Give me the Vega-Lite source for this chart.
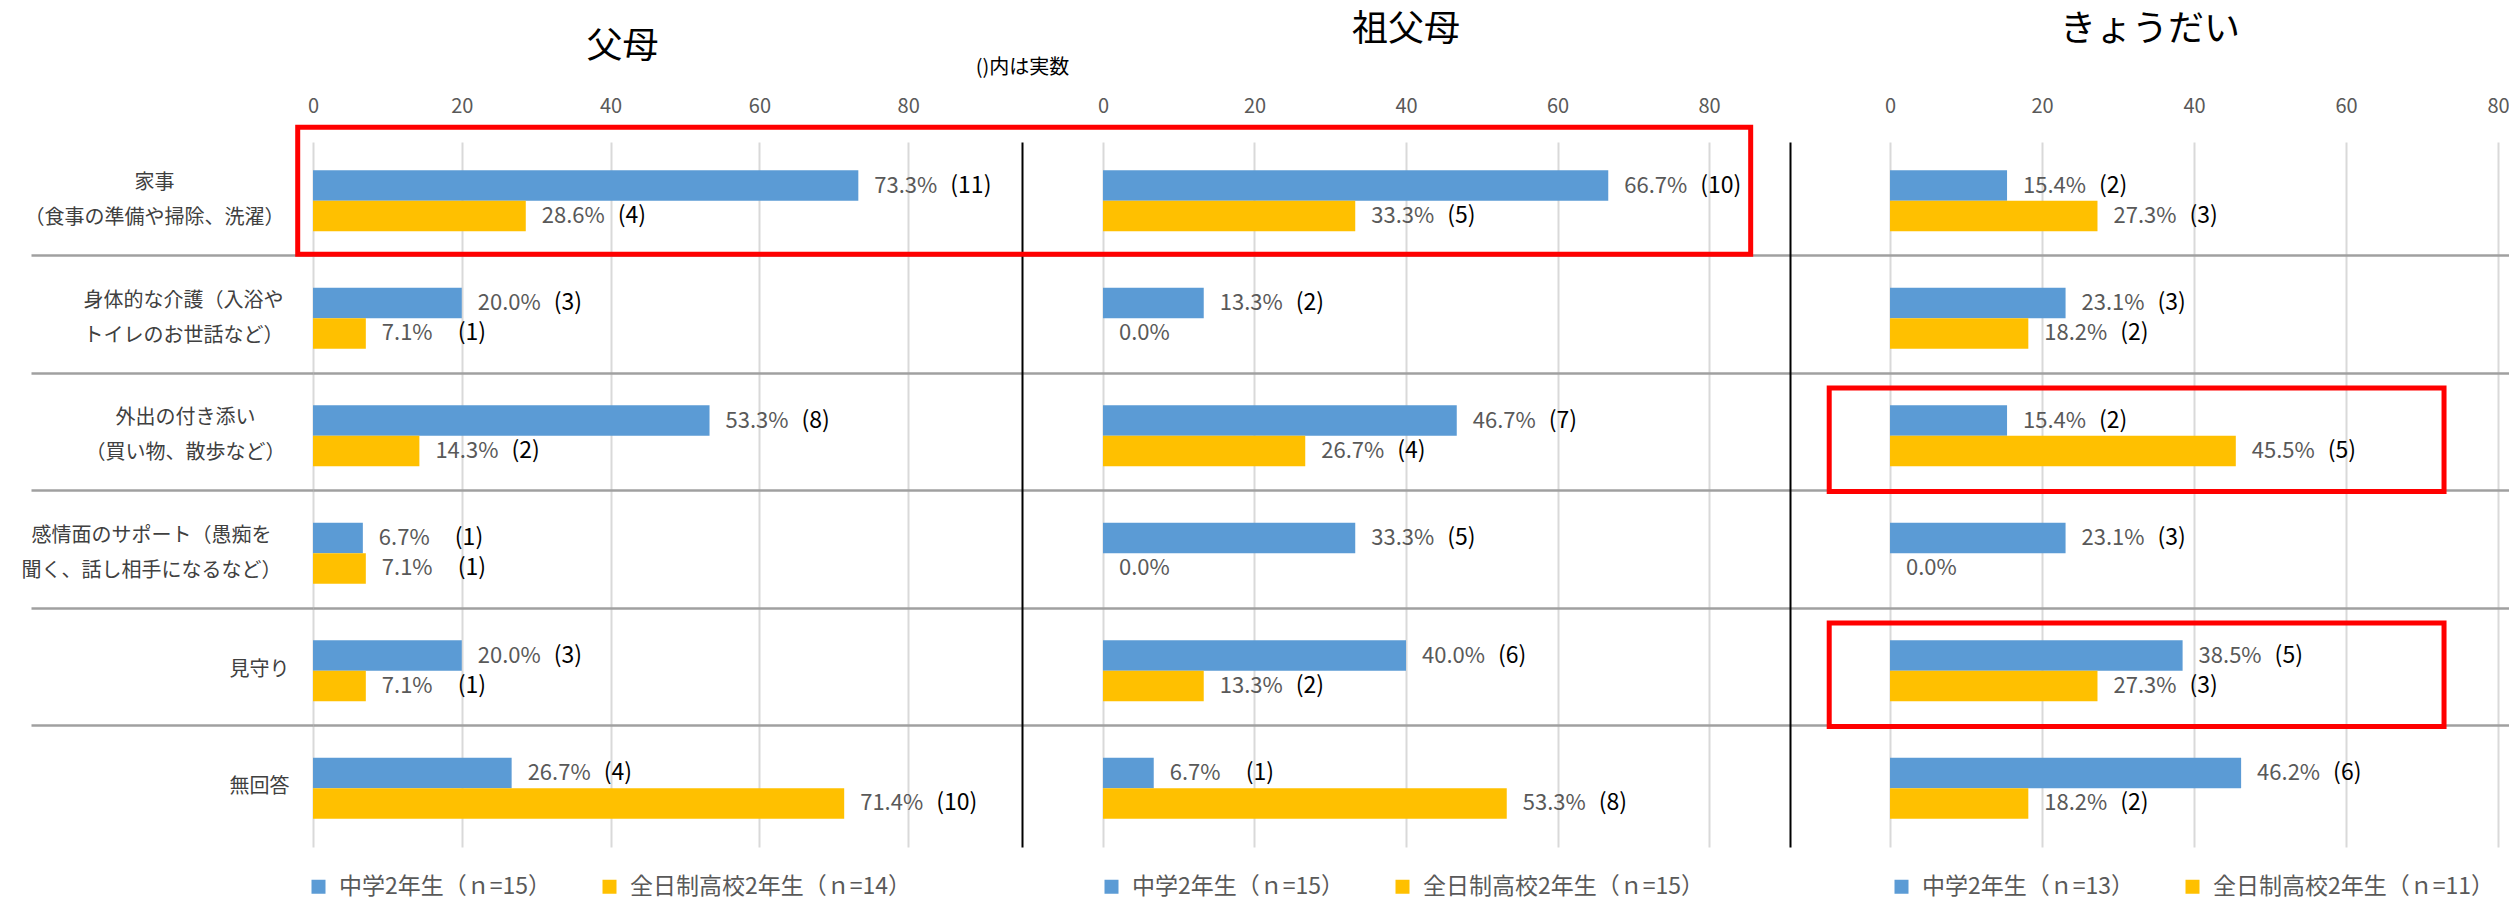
{
  "$schema": "https://vega.github.io/schema/vega-lite/v6.json",
  "background": "white",
  "padding": {"left": 21, "top": 12, "right": 0, "bottom": 3},
  "datasets": {
    "oya": [
      {"row": "家事\n（食事の準備や掃除、洗濯）", "series": "中学2年生（ｎ=15）", "pct": 73.3, "n": 11},
      {"row": "家事\n（食事の準備や掃除、洗濯）", "series": "全日制高校2年生（ｎ=14）", "pct": 28.6, "n": 4},
      {"row": "身体的な介護（入浴や\nトイレのお世話など）", "series": "中学2年生（ｎ=15）", "pct": 20.0, "n": 3},
      {"row": "身体的な介護（入浴や\nトイレのお世話など）", "series": "全日制高校2年生（ｎ=14）", "pct": 7.1, "n": 1},
      {"row": "外出の付き添い\n（買い物、散歩など）", "series": "中学2年生（ｎ=15）", "pct": 53.3, "n": 8},
      {"row": "外出の付き添い\n（買い物、散歩など）", "series": "全日制高校2年生（ｎ=14）", "pct": 14.3, "n": 2},
      {"row": "感情面のサポート（愚痴を\n聞く、話し相手になるなど）", "series": "中学2年生（ｎ=15）", "pct": 6.7, "n": 1},
      {"row": "感情面のサポート（愚痴を\n聞く、話し相手になるなど）", "series": "全日制高校2年生（ｎ=14）", "pct": 7.1, "n": 1},
      {"row": "見守り", "series": "中学2年生（ｎ=15）", "pct": 20.0, "n": 3},
      {"row": "見守り", "series": "全日制高校2年生（ｎ=14）", "pct": 7.1, "n": 1},
      {"row": "無回答", "series": "中学2年生（ｎ=15）", "pct": 26.7, "n": 4},
      {"row": "無回答", "series": "全日制高校2年生（ｎ=14）", "pct": 71.4, "n": 10}
    ],
    "sofubo": [
      {"row": "家事\n（食事の準備や掃除、洗濯）", "series": "中学2年生（ｎ=15）", "pct": 66.7, "n": 10},
      {"row": "家事\n（食事の準備や掃除、洗濯）", "series": "全日制高校2年生（ｎ=15）", "pct": 33.3, "n": 5},
      {"row": "身体的な介護（入浴や\nトイレのお世話など）", "series": "中学2年生（ｎ=15）", "pct": 13.3, "n": 2},
      {"row": "身体的な介護（入浴や\nトイレのお世話など）", "series": "全日制高校2年生（ｎ=15）", "pct": 0.0, "n": 0},
      {"row": "外出の付き添い\n（買い物、散歩など）", "series": "中学2年生（ｎ=15）", "pct": 46.7, "n": 7},
      {"row": "外出の付き添い\n（買い物、散歩など）", "series": "全日制高校2年生（ｎ=15）", "pct": 26.7, "n": 4},
      {"row": "感情面のサポート（愚痴を\n聞く、話し相手になるなど）", "series": "中学2年生（ｎ=15）", "pct": 33.3, "n": 5},
      {"row": "感情面のサポート（愚痴を\n聞く、話し相手になるなど）", "series": "全日制高校2年生（ｎ=15）", "pct": 0.0, "n": 0},
      {"row": "見守り", "series": "中学2年生（ｎ=15）", "pct": 40.0, "n": 6},
      {"row": "見守り", "series": "全日制高校2年生（ｎ=15）", "pct": 13.3, "n": 2},
      {"row": "無回答", "series": "中学2年生（ｎ=15）", "pct": 6.7, "n": 1},
      {"row": "無回答", "series": "全日制高校2年生（ｎ=15）", "pct": 53.3, "n": 8}
    ],
    "kyodai": [
      {"row": "家事\n（食事の準備や掃除、洗濯）", "series": "中学2年生（ｎ=13）", "pct": 15.4, "n": 2},
      {"row": "家事\n（食事の準備や掃除、洗濯）", "series": "全日制高校2年生（ｎ=11）", "pct": 27.3, "n": 3},
      {"row": "身体的な介護（入浴や\nトイレのお世話など）", "series": "中学2年生（ｎ=13）", "pct": 23.1, "n": 3},
      {"row": "身体的な介護（入浴や\nトイレのお世話など）", "series": "全日制高校2年生（ｎ=11）", "pct": 18.2, "n": 2},
      {"row": "外出の付き添い\n（買い物、散歩など）", "series": "中学2年生（ｎ=13）", "pct": 15.4, "n": 2},
      {"row": "外出の付き添い\n（買い物、散歩など）", "series": "全日制高校2年生（ｎ=11）", "pct": 45.5, "n": 5},
      {"row": "感情面のサポート（愚痴を\n聞く、話し相手になるなど）", "series": "中学2年生（ｎ=13）", "pct": 23.1, "n": 3},
      {"row": "感情面のサポート（愚痴を\n聞く、話し相手になるなど）", "series": "全日制高校2年生（ｎ=11）", "pct": 0.0, "n": 0},
      {"row": "見守り", "series": "中学2年生（ｎ=13）", "pct": 38.5, "n": 5},
      {"row": "見守り", "series": "全日制高校2年生（ｎ=11）", "pct": 27.3, "n": 3},
      {"row": "無回答", "series": "中学2年生（ｎ=13）", "pct": 46.2, "n": 6},
      {"row": "無回答", "series": "全日制高校2年生（ｎ=11）", "pct": 18.2, "n": 2}
    ]
  },
  "spacing": 0,
  "bounds": "flush",
  "hconcat": [
    {
      "width": 709,
      "height": 705,
      "title": {"text": "父母", "fontSize": 36, "fontWeight": "normal", "color": "#000000", "frame": "group", "anchor": "middle", "dx": -45, "offset": -8},
      "data": {"name": "oya"},
      "layer": [
        {
          "mark": {"type": "bar"},
          "encoding": {
            "y": {
              "field": "row", "type": "nominal", "sort": null,
              "scale": {"paddingInner": 0.481, "paddingOuter": 0.2405},
              "axis": {
                "title": null, "domain": false,
                "ticks": true, "tickSize": 282, "tickColor": "#A0A0A0", "tickWidth": 2.5,
                "grid": true, "gridColor": "#A0A0A0", "gridWidth": 2.5,
                "bandPosition": 1.4, "tickExtra": false,
                "tickOpacity": {"condition": {"test": "datum.value == '無回答'", "value": 0}, "value": 1},
                "gridOpacity": {"condition": {"test": "datum.value == '無回答'", "value": 0}, "value": 1},
                "labelOffset": {"condition": {"test": "indexof(datum.value, '\\n') >= 0", "value": -17.5}, "value": -1},
                "labelAlign": "center",
                "labelBaseline": "middle",
                "labelPadding": {"condition": [
                  {"test": "indexof(datum.value, '家事') == 0", "value": -123},
                  {"test": "indexof(datum.value, '身体') == 0", "value": -152},
                  {"test": "indexof(datum.value, '外出') == 0", "value": -154},
                  {"test": "indexof(datum.value, '感情') == 0", "value": -120}
                ], "value": -228},
                "labelExpr": "split(datum.label, '\\n')",
                "labelFontSize": 20, "labelColor": "#404040", "labelLineHeight": 35,
                "labelLimit": 500, "labelOverlap": false
              }
            },
            "yOffset": {"field": "series", "type": "nominal", "sort": null, "scale": {"paddingInner": 0, "paddingOuter": 0}},
            "x": {
              "field": "pct", "type": "quantitative",
              "scale": {"domain": [0, 95.3], "nice": false, "zero": false},
              "axis": {
                "orient": "top", "values": [0, 20, 40, 60, 80], "grid": true, "gridColor": "#D9D9D9", "gridWidth": 2,
                "domain": false, "ticks": false, "labelPadding": 26, "labelFontSize": 20, "labelColor": "#595959", "labelFlush": false,
                "title": "()内は実数", "titleAnchor": "end", "titleAlign": "center", "titleFontSize": 20, "titleFontWeight": "normal",
                "titleColor": "#000000", "titlePadding": 18.5
              }
            },
            "color": {
              "field": "series", "type": "nominal", "sort": null,
              "scale": {"range": ["#5B9BD5", "#FFC000"]},
              "legend": {"orient": "none", "legendX": -6, "legendY": 733, "direction": "horizontal", "title": null,
                "symbolType": "square", "symbolSize": 196, "symbolStrokeWidth": 0, "labelFontSize": 23, "labelColor": "#595959",
                "labelLimit": 500, "columnPadding": 46, "labelOffset": 9}
            }
          }
        },
        {
          "mark": {"type": "text", "align": "left", "baseline": "middle", "dx": 16, "fontSize": 22, "color": "#595959", "text": {"expr": "format(datum.pct, '.1f') + '%'"}},
          "encoding": {
            "y": {"field": "row", "type": "nominal", "sort": null},
            "yOffset": {"field": "series", "type": "nominal", "sort": null},
            "x": {"field": "pct", "type": "quantitative"}
          }
        },
        {
          "transform": [{"filter": "datum.n > 0"}],
          "mark": {"type": "text", "align": "left", "baseline": "middle", "dx": 92, "fontSize": 23, "color": "#000000", "text": {"expr": "'(' + datum.n + ')'"}},
          "encoding": {
            "y": {"field": "row", "type": "nominal", "sort": null},
            "yOffset": {"field": "series", "type": "nominal", "sort": null},
            "x": {"field": "pct", "type": "quantitative"}
          }
        }
      ]
    },
    {
      "width": 768,
      "height": 705,
      "title": {"text": "祖父母", "fontSize": 36, "fontWeight": "normal", "color": "#000000", "frame": "group", "anchor": "middle", "offset": 47},
      "data": {"name": "sofubo"},
      "layer": [
        {
          "mark": {"type": "bar"},
          "encoding": {
            "y": {
              "field": "row", "type": "nominal", "sort": null,
              "scale": {"paddingInner": 0.481, "paddingOuter": 0.2405},
              "axis": {
                "title": null, "labels": false, "ticks": false,
                "domain": true, "domainColor": "#000000", "domainWidth": 2,
                "grid": true, "gridColor": "#A0A0A0", "gridWidth": 2.5,
                "bandPosition": 1.4, "tickExtra": false,
                "gridOpacity": {"condition": {"test": "datum.value == '無回答'", "value": 0}, "value": 1}
              }
            },
            "yOffset": {"field": "series", "type": "nominal", "sort": null, "scale": {"paddingInner": 0, "paddingOuter": 0}},
            "x": {
              "field": "pct", "type": "quantitative",
              "scale": {"domain": [-10.69, 90.69], "nice": false, "zero": false},
              "axis": {
                "orient": "top", "values": [0, 20, 40, 60, 80], "grid": true, "gridColor": "#D9D9D9", "gridWidth": 2,
                "domain": false, "ticks": false, "labelPadding": 26, "labelFontSize": 20, "labelColor": "#595959", "labelFlush": false,
                "title": null
              }
            },
            "color": {
              "field": "series", "type": "nominal", "sort": null,
              "scale": {"range": ["#5B9BD5", "#FFC000"]},
              "legend": {"orient": "none", "legendX": 78, "legendY": 733, "direction": "horizontal", "title": null,
                "symbolType": "square", "symbolSize": 196, "symbolStrokeWidth": 0, "labelFontSize": 23, "labelColor": "#595959",
                "labelLimit": 500, "columnPadding": 46, "labelOffset": 9}
            }
          }
        },
        {
          "mark": {"type": "text", "align": "left", "baseline": "middle", "dx": 16, "fontSize": 22, "color": "#595959", "text": {"expr": "format(datum.pct, '.1f') + '%'"}},
          "encoding": {
            "y": {"field": "row", "type": "nominal", "sort": null},
            "yOffset": {"field": "series", "type": "nominal", "sort": null},
            "x": {"field": "pct", "type": "quantitative"}
          }
        },
        {
          "transform": [{"filter": "datum.n > 0"}],
          "mark": {"type": "text", "align": "left", "baseline": "middle", "dx": 92, "fontSize": 23, "color": "#000000", "text": {"expr": "'(' + datum.n + ')'"}},
          "encoding": {
            "y": {"field": "row", "type": "nominal", "sort": null},
            "yOffset": {"field": "series", "type": "nominal", "sort": null},
            "x": {"field": "pct", "type": "quantitative"}
          }
        },
        {
          "data": {"values": [{"row": "家事\n（食事の準備や掃除、洗濯）"}]},
          "mark": {"type": "rect", "fill": "transparent", "stroke": "#FF0000", "strokeWidth": 5, "height": {"band": 2.08}, "yOffset": -10},
          "encoding": {
            "y": {"field": "row", "type": "nominal", "sort": null},
            "x": {"datum": -106.3},
            "x2": {"datum": 85.5}
          }
        }
      ]
    },
    {
      "width": 720,
      "height": 705,
      "title": {"text": "きょうだい", "fontSize": 36, "fontWeight": "normal", "color": "#000000", "frame": "group", "anchor": "middle", "offset": 47},
      "data": {"name": "kyodai"},
      "layer": [
        {
          "mark": {"type": "bar"},
          "encoding": {
            "y": {
              "field": "row", "type": "nominal", "sort": null,
              "scale": {"paddingInner": 0.481, "paddingOuter": 0.2405},
              "axis": {
                "title": null, "labels": false, "ticks": false,
                "domain": true, "domainColor": "#000000", "domainWidth": 2,
                "grid": true, "gridColor": "#A0A0A0", "gridWidth": 2.5,
                "bandPosition": 1.4, "tickExtra": false,
                "gridOpacity": {"condition": {"test": "datum.value == '無回答'", "value": 0}, "value": 1}
              }
            },
            "yOffset": {"field": "series", "type": "nominal", "sort": null, "scale": {"paddingInner": 0, "paddingOuter": 0}},
            "x": {
              "field": "pct", "type": "quantitative",
              "scale": {"domain": [-13.16, 81.58], "nice": false, "zero": false},
              "axis": {
                "orient": "top", "values": [0, 20, 40, 60, 80], "grid": true, "gridColor": "#D9D9D9", "gridWidth": 2,
                "domain": false, "ticks": false, "labelPadding": 26, "labelFontSize": 20, "labelColor": "#595959", "labelFlush": false,
                "title": null
              }
            },
            "color": {
              "field": "series", "type": "nominal", "sort": null,
              "scale": {"range": ["#5B9BD5", "#FFC000"]},
              "legend": {"orient": "none", "legendX": 100, "legendY": 733, "direction": "horizontal", "title": null,
                "symbolType": "square", "symbolSize": 196, "symbolStrokeWidth": 0, "labelFontSize": 23, "labelColor": "#595959",
                "labelLimit": 500, "columnPadding": 46, "labelOffset": 9}
            }
          }
        },
        {
          "mark": {"type": "text", "align": "left", "baseline": "middle", "dx": 16, "fontSize": 22, "color": "#595959", "text": {"expr": "format(datum.pct, '.1f') + '%'"}},
          "encoding": {
            "y": {"field": "row", "type": "nominal", "sort": null},
            "yOffset": {"field": "series", "type": "nominal", "sort": null},
            "x": {"field": "pct", "type": "quantitative"}
          }
        },
        {
          "transform": [{"filter": "datum.n > 0"}],
          "mark": {"type": "text", "align": "left", "baseline": "middle", "dx": 92, "fontSize": 23, "color": "#000000", "text": {"expr": "'(' + datum.n + ')'"}},
          "encoding": {
            "y": {"field": "row", "type": "nominal", "sort": null},
            "yOffset": {"field": "series", "type": "nominal", "sort": null},
            "x": {"field": "pct", "type": "quantitative"}
          }
        },
        {
          "data": {"values": [{"row": "外出の付き添い\n（買い物、散歩など）"}, {"row": "見守り"}]},
          "mark": {"type": "rect", "fill": "transparent", "stroke": "#FF0000", "strokeWidth": 5, "height": {"band": 1.7}, "yOffset": 4},
          "encoding": {
            "y": {"field": "row", "type": "nominal", "sort": null},
            "x": {"datum": -8.0},
            "x2": {"datum": 72.9}
          }
        }
      ]
    }
  ],
  "resolve": {
    "scale": {"x": "independent", "y": "independent", "yOffset": "independent", "color": "independent"},
    "legend": {"color": "independent"}
  },
  "config": {
    "view": {"stroke": null},
    "font": "Noto Sans CJK JP",
    "text": {"font": "Noto Sans CJK JP"},
    "axis": {"labelFont": "Noto Sans CJK JP", "titleFont": "Noto Sans CJK JP"},
    "legend": {"labelFont": "Noto Sans CJK JP"},
    "title": {"font": "Noto Sans CJK JP"}
  }
}
